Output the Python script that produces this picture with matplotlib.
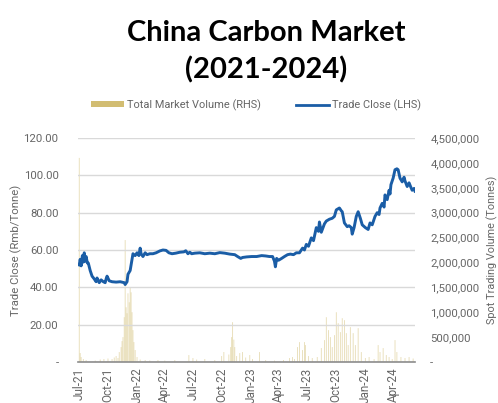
import matplotlib
matplotlib.use("Agg")
import matplotlib.pyplot as plt
import matplotlib.dates as mdates
import matplotlib.ticker as mticker
from matplotlib.patches import Patch
from matplotlib.lines import Line2D
import pandas as pd

# ---- data -------------------------------------------------------------
price_dates = [
    "2021-07-01", "2021-07-04", "2021-07-07", "2021-07-11", "2021-07-14", "2021-07-17",
    "2021-07-20", "2021-07-23", "2021-07-27", "2021-07-30", "2021-08-05", "2021-08-11",
    "2021-08-18", "2021-08-24", "2021-08-27", "2021-09-03", "2021-09-09", "2021-09-16",
    "2021-09-22", "2021-09-25", "2021-09-28", "2021-10-05", "2021-10-14", "2021-10-27",
    "2021-11-09", "2021-11-22", "2021-11-25", "2021-12-01", "2021-12-04", "2021-12-11",
    "2021-12-17", "2021-12-20", "2021-12-27", "2022-01-02", "2022-01-08", "2022-01-12",
    "2022-01-15", "2022-01-21", "2022-01-28", "2022-02-03", "2022-02-12", "2022-02-22",
    "2022-03-04", "2022-03-16", "2022-03-26", "2022-04-05", "2022-04-14", "2022-04-24",
    "2022-05-06", "2022-05-19", "2022-06-01", "2022-06-07", "2022-06-14", "2022-06-20",
    "2022-06-26", "2022-07-06", "2022-07-22", "2022-08-07", "2022-08-23", "2022-09-08",
    "2022-09-24", "2022-10-10", "2022-10-26", "2022-11-11", "2022-11-20", "2022-11-30",
    "2022-12-06", "2022-12-19", "2023-01-04", "2023-01-20", "2023-02-05", "2023-02-18",
    "2023-03-02", "2023-03-12", "2023-03-18", "2023-03-21", "2023-03-25", "2023-03-31",
    "2023-04-10", "2023-04-19", "2023-04-29", "2023-05-08", "2023-05-18", "2023-05-27",
    "2023-06-06", "2023-06-16", "2023-06-22", "2023-06-28", "2023-07-05", "2023-07-14",
    "2023-07-21", "2023-07-30", "2023-08-06", "2023-08-09", "2023-08-15", "2023-08-25",
    "2023-08-31", "2023-09-10", "2023-09-19", "2023-09-26", "2023-10-02", "2023-10-12",
    "2023-10-18", "2023-10-21", "2023-10-28", "2023-11-06", "2023-11-12", "2023-11-19",
    "2023-11-22", "2023-11-28", "2023-12-05", "2023-12-11", "2023-12-18", "2023-12-24",
    "2024-01-03", "2024-01-12", "2024-01-18", "2024-01-25", "2024-02-03", "2024-02-10",
    "2024-02-16", "2024-02-19", "2024-02-26", "2024-03-03", "2024-03-06", "2024-03-13",
    "2024-03-19", "2024-03-22", "2024-03-25", "2024-04-01", "2024-04-07", "2024-04-13",
    "2024-04-17", "2024-04-23", "2024-04-30", "2024-05-06", "2024-05-09", "2024-05-16",
    "2024-05-22", "2024-05-28", "2024-06-01", "2024-06-07", "2024-06-10",
]
trade_close = [
    52, 55, 51.5, 57, 53.5, 58.5,
    54, 56.5, 53, 53, 49, 46,
    44.5, 43, 45, 42.5, 44, 43,
    42.5, 44.5, 46, 43.5, 43, 42.8,
    43, 42.5, 41.5, 43, 47, 49,
    55, 58, 57, 58.5, 57, 61,
    58, 56.5, 58.5, 57.5, 58, 58,
    58.5, 59.5, 60, 59.8, 58.5, 58,
    58.3, 58.8, 59, 59.6, 58, 58.8,
    58, 58.3, 58.5, 58, 58.3, 58,
    58.6, 58.3, 57.8, 57.5, 56.5, 55.5,
    56, 56.3, 56.5, 56.5, 57, 56.8,
    56.5, 56.5, 54, 51, 55.5, 54.5,
    55.5, 56.5, 57.5, 57.8, 57.5, 58.5,
    58.5, 61, 60, 63, 62, 66.5,
    65, 72, 70, 75, 69.5, 74,
    75.5, 76.5, 77, 78, 81.5, 82.5,
    81, 80.5, 74.5, 72.5, 73, 72,
    68.5, 72, 78, 80.5, 77, 73.5,
    72, 71, 74.5, 73.5, 78, 80,
    79, 82.5, 85, 83, 89.5, 87,
    92, 90, 95, 98.5, 103, 103.5,
    103, 98.5, 96.5, 99, 97, 94,
    96, 93.5, 92, 93, 91.5,
]

volume_dates = [
    "2021-07-01", "2021-07-04", "2021-07-07", "2021-07-14", "2021-07-23", "2021-08-21",
    "2021-09-06", "2021-09-18", "2021-10-01", "2021-10-14", "2021-10-21", "2021-10-27",
    "2021-11-02", "2021-11-06", "2021-11-12", "2021-11-15", "2021-11-18", "2021-11-22",
    "2021-11-25", "2021-11-28", "2021-12-01", "2021-12-04", "2021-12-08", "2021-12-11",
    "2021-12-14", "2021-12-17", "2021-12-20", "2021-12-23", "2021-12-27", "2022-01-02",
    "2022-01-12", "2022-01-28", "2022-02-12", "2022-03-10", "2022-04-01", "2022-05-03",
    "2022-06-17", "2022-06-30", "2022-07-12", "2022-08-07", "2022-09-08", "2022-09-30",
    "2022-10-07", "2022-10-23", "2022-10-29", "2022-11-01", "2022-11-04", "2022-11-08",
    "2022-11-11", "2022-11-17", "2022-11-27", "2022-12-06", "2022-12-16", "2022-12-29",
    "2023-01-07", "2023-01-29", "2023-02-18", "2023-03-18", "2023-04-16", "2023-05-05",
    "2023-05-15", "2023-05-21", "2023-05-31", "2023-06-06", "2023-06-16", "2023-06-22",
    "2023-06-25", "2023-07-05", "2023-07-17", "2023-08-02", "2023-08-15", "2023-08-25",
    "2023-08-31", "2023-09-07", "2023-09-13", "2023-09-19", "2023-09-26", "2023-10-02",
    "2023-10-08", "2023-10-15", "2023-10-21", "2023-10-28", "2023-11-03", "2023-11-09",
    "2023-11-16", "2023-11-25", "2023-12-02", "2023-12-11", "2023-12-21", "2024-01-03",
    "2024-01-15", "2024-01-31", "2024-02-13", "2024-02-19", "2024-02-29", "2024-03-10",
    "2024-03-19", "2024-03-29", "2024-04-07", "2024-04-13", "2024-04-26", "2024-05-09",
    "2024-05-22", "2024-06-04",
]
market_volume = [
    4100000, 180000, 100000, 60000, 40000, 30000,
    50000, 60000, 70000, 60000, 90000, 120000,
    80000, 200000, 300000, 420000, 500000, 900000,
    2450000, 1100000, 980000, 1380000, 1200000, 1500000,
    1400000, 1000000, 640000, 400000, 240000, 100000,
    50000, 40000, 30000, 40000, 30000, 40000,
    140000, 80000, 50000, 60000, 40000, 120000,
    200000, 150000, 300000, 500000, 800000, 450000,
    300000, 120000, 180000, 200000, 90000, 140000,
    60000, 200000, 40000, 30000, 40000, 80000,
    100000, 60000, 300000, 400000, 240000, 400000,
    340000, 120000, 80000, 100000, 280000, 440000,
    900000, 640000, 500000, 300000, 540000, 1000000,
    780000, 600000, 880000, 840000, 580000, 340000,
    700000, 580000, 340000, 680000, 200000, 80000,
    100000, 60000, 340000, 200000, 280000, 140000,
    100000, 60000, 440000, 200000, 100000, 80000,
    100000, 70000,
]

month_ticks = ["2021-07-01", "2021-10-01", "2022-01-01", "2022-04-01", "2022-07-01",
               "2022-10-01", "2023-01-01", "2023-04-01", "2023-07-01", "2023-10-01",
               "2024-01-01", "2024-04-01"]
left_ticks = [0, 20, 40, 60, 80, 100, 120]
right_ticks = [0, 500000, 1000000, 1500000, 2000000, 2500000, 3000000, 3500000, 4000000, 4500000]

# ---- styling ----------------------------------------------------------
plt.rcParams['font.family'] = ['Roboto', 'DejaVu Sans']
GRAY = '#666666'
LINE_BLUE = '#1a5da6'
BAR_TAN = '#d2bd72'

fig = plt.figure(figsize=(4.98, 4.03), dpi=100)
ax = fig.add_axes([78 / 498, 1 - 362 / 403, (415 - 78) / 498, (362 - 138) / 403])
ax2 = ax.twinx()

pdates = pd.to_datetime(price_dates)
vdates = pd.to_datetime(volume_dates)

ax2.bar(vdates, market_volume, width=2.6, color=BAR_TAN, alpha=0.55, linewidth=0,
        snap=False, zorder=1)
ax.plot(pdates, trade_close, color=LINE_BLUE, lw=2.1, zorder=3, solid_joinstyle='round')

ax.set_zorder(ax2.get_zorder() + 1)
ax.patch.set_visible(False)

ax.set_ylim(0, 120)
ax2.set_ylim(0, 4500000)
ax.set_xlim(pd.Timestamp("2021-06-27"), pd.Timestamp("2024-06-10"))

ax.set_yticks(left_ticks)
ax2.set_yticks(right_ticks)
ax.yaxis.set_major_formatter(mticker.FuncFormatter(lambda v, p: '-' if v == 0 else f"{v:.2f}"))
ax2.yaxis.set_major_formatter(mticker.FuncFormatter(lambda v, p: '-' if v == 0 else f"{int(v):,}"))

ax.set_xticks(pd.to_datetime(month_ticks))
ax.xaxis.set_major_formatter(mdates.DateFormatter('%b-%y'))
ax.tick_params(axis='x', rotation=90, length=0, pad=4, labelsize=8.5, colors=GRAY)
ax.tick_params(axis='y', length=0, pad=14, labelsize=8.2, colors=GRAY)
ax2.tick_params(axis='y', length=0, pad=11, labelsize=8.2, colors=GRAY)

ax.grid(axis='y', color='#d9d9d9', lw=1.0)
ax.set_axisbelow(True)
for a in (ax, ax2):
    for s in ('top', 'left', 'right', 'bottom'):
        a.spines[s].set_visible(False)
ax.spines['bottom'].set_visible(True)
ax.spines['bottom'].set_color('#8c8c8c')
ax.spines['bottom'].set_linewidth(1.2)

ax.set_ylabel('Trade Close (Rmb/Tonne)', color=GRAY, fontsize=8.2)
ax2.set_ylabel('Spot Trading Volume (Tonnes)', color=GRAY, fontsize=7.8)
ax.yaxis.set_label_coords((22 - 78) / 337, 0.5)
ax2.yaxis.set_label_coords((486 - 78) / 337, 0.5)

handles = [Patch(facecolor=BAR_TAN, edgecolor='none'),
           Line2D([0], [0], color=LINE_BLUE, lw=2.0)]
fig.legend(handles, ['Total Market Volume (RHS)', 'Trade Close (LHS)'],
           loc='center', bbox_to_anchor=(256 / 498, 1 - 105 / 403), ncol=2, frameon=False,
           fontsize=7.9, labelcolor=GRAY, handlelength=3.0, handleheight=0.5,
           columnspacing=3.2, handletextpad=0.3, borderpad=0, borderaxespad=0)

fig.text(266 / 498, 1 - 52 / 403, 'China Carbon Market\n(2021-2024)', ha='center', va='center',
         fontsize=21, fontweight='bold', family=['Lato', 'DejaVu Sans'], linespacing=1.45,
         color='black')

fig.savefig('out.png', dpi=100)
